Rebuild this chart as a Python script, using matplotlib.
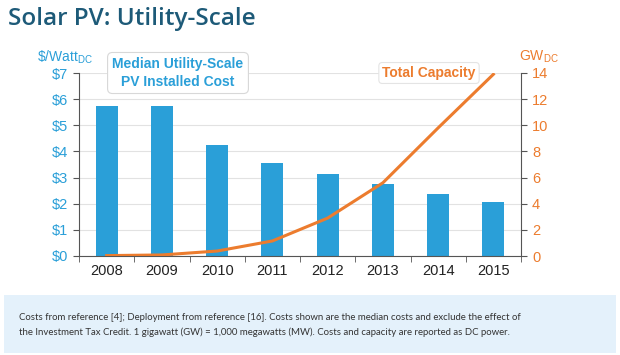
import numpy as np
import matplotlib
matplotlib.use("Agg")
import matplotlib.pyplot as plt
from matplotlib.patches import FancyBboxPatch

# data
years = ["2008", "2009", "2010", "2011", "2012", "2013", "2014", "2015"]
cost = [5.75, 5.75, 4.25, 3.56, 3.14, 2.77, 2.38, 2.07]       # $/Watt DC
capacity = [0.03, 0.08, 0.38, 1.15, 2.9, 5.6, 9.8, 13.9]       # GW DC
cost_ticks = [0, 1, 2, 3, 4, 5, 6, 7]
cap_ticks = [0, 2, 4, 6, 8, 10, 12, 14]

blue = "#2a9fd8"
orange = "#ec7c2e"
title_col = "#1d5a78"

plt.rcParams['font.family'] = ['Liberation Sans', 'DejaVu Sans']

fig = plt.figure(figsize=(6.2, 3.55), dpi=100)
ax = fig.add_axes([79/620, 1 - 256/355, (521-79)/620, (256-73)/355])
x = np.arange(len(years))

ax.bar(x, cost, width=0.4, color=blue, zorder=2)
ax.set_ylim(0, 7)
ax.set_xlim(-0.5, len(years) - 0.5)
ax.set_yticks(cost_ticks)
ax.set_yticklabels(["$%d" % v for v in cost_ticks], color=blue, fontsize=10.5)
ax.set_xticks(x)
ax.set_xticklabels(years, fontsize=10.5, color="#222222")
ax.tick_params(axis="x", length=0, pad=6)
ax.set_xticks(np.arange(-0.5, len(years), 1), minor=True)
ax.tick_params(axis="x", which="minor", length=4, color="#555555")
ax.tick_params(axis="y", length=4, color="#555555", pad=4)
ax.grid(axis="y", color="#e2e2e2", lw=0.8, zorder=0)
ax.set_axisbelow(True)
for s in ["top", "right"]:
    ax.spines[s].set_visible(False)
ax.spines["left"].set_color("#555555")
ax.spines["bottom"].set_color("#555555")

ax2 = ax.twinx()
ax2.plot(x, capacity, color=orange, lw=2.2, zorder=3)
ax2.set_ylim(0, 14)
ax2.set_yticks(cap_ticks)
ax2.set_yticklabels([str(v) for v in cap_ticks], color=orange, fontsize=10.5)
ax2.tick_params(axis="y", length=4, color="#555555", pad=4)
for s in ["top", "left", "bottom"]:
    ax2.spines[s].set_visible(False)
ax2.spines["right"].set_color("#555555")

# unit labels
fig.text(37/620, 1 - 57/355, r"\$/Watt$_{\mathregular{DC}}$", color=blue, fontsize=10, va="center")
fig.text(519/620, 1 - 57/355, r"GW$_{\mathregular{DC}}$", color=orange, fontsize=10, va="center")

# callout boxes
fig.text(178/620, 1 - 73/355, "Median Utility-Scale\nPV Installed Cost", color=blue,
         fontsize=10, fontweight="bold", ha="center", va="center", linespacing=1.3,
         bbox=dict(boxstyle="round,pad=0.35", fc="white", ec="#d8d8d8", lw=0.8))
fig.text(429/620, 1 - 73/355, "Total Capacity", color=orange,
         fontsize=10, fontweight="bold", ha="center", va="center",
         bbox=dict(boxstyle="round,pad=0.25", fc="white", ec="#e4e4e4", lw=0.8))

# title
fig.text(8/620, 1 - 19/355, "Solar PV: Utility-Scale", color=title_col,
         fontsize=17.5, fontweight="semibold", family="Open Sans", va="center")

# caption box
fig.patches.append(FancyBboxPatch((4/620, 1 - 353/355), 612/620, 58/355,
                                  boxstyle="square,pad=0", fc="#e4f1fb", ec="none",
                                  transform=fig.transFigure, figure=fig))
fig.text(19/620, 1 - 325/355,
         "Costs from reference [4]; Deployment from reference [16]. Costs shown are the median costs and exclude the effect of\n"
         "the Investment Tax Credit. 1 gigawatt (GW) = 1,000 megawatts (MW). Costs and capacity are reported as DC power.",
         color="#333333", fontsize=6.9, family="Lato", va="center", linespacing=1.75)

fig.savefig("out.png", dpi=100)
